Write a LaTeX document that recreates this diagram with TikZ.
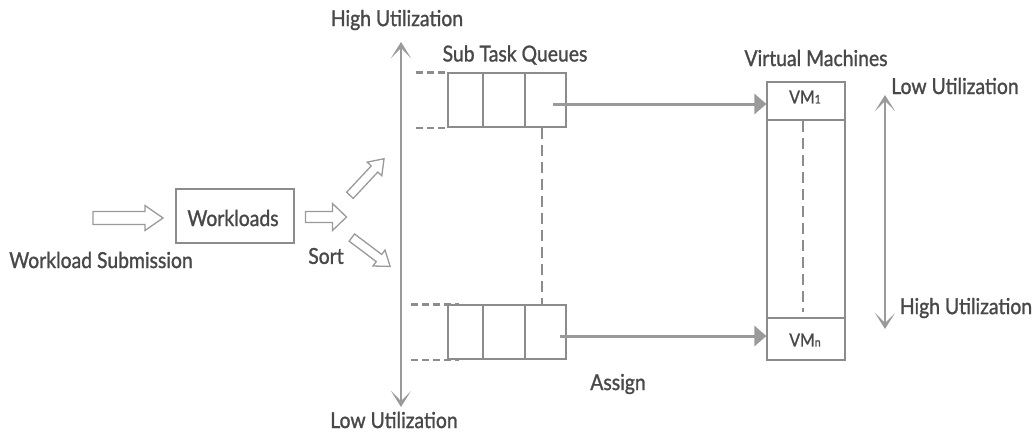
\documentclass[tikz,border=0pt]{standalone}
\usepackage{fontspec}
\setmainfont{Lato}[FakeStretch=0.88,FakeBold=1.2]
\usetikzlibrary{arrows.meta}
\definecolor{txt}{HTML}{484848}
\definecolor{ln}{HTML}{9A9A9A}
\definecolor{bx}{HTML}{8C8C8C}
\tikzset{
  lbl/.style={text=txt,font=\fontsize{22}{24}\selectfont,inner sep=0pt},
  vmlbl/.style={text=txt,font=\fontsize{18}{20}\selectfont,inner sep=0pt},
  hollowsty/.style={draw=ln,fill=white,line width=1.3pt,line join=miter},
  qbox/.style={draw=bx,line width=1.2pt,minimum width=118pt,minimum height=54pt,inner sep=0pt},
  vmbox/.style={draw=bx,line width=1.2pt,minimum width=78pt,minimum height=278pt,inner sep=0pt},
  divider/.style={draw=bx,line width=1.8pt},
  dashq/.style={draw=bx,line width=2.2pt,dash pattern=on 7pt off 4pt},
  dashv/.style={draw=bx,line width=1.8pt,dash pattern=on 11pt off 6pt},
  util/.style={draw=ln,line width=2.4pt,{Stealth[length=16pt,width=20pt,inset=10pt]}-{Stealth[length=16pt,width=20pt,inset=10pt]}},
  assign/.style={draw=ln,line width=3pt,-{Triangle[length=12pt,width=20pt]}}
}
% hollow block arrow: center x, center y, angle, length, shaft half, head half, head length
\newcommand{\myhollow}[7]{%
  \draw[hollowsty,shift={(#1,#2)},rotate=#3]
    (-#4/2,-#5) -- (#4/2-#7,-#5) -- (#4/2-#7,-#6) -- (#4/2,0) -- (#4/2-#7,#6)
    -- (#4/2-#7,#5) -- (-#4/2,#5) -- cycle;}
\begin{document}
\begin{tikzpicture}[x=1pt,y=-1pt]
\useasboundingbox (0,0) rectangle (1035,437);
% hollow arrows
\myhollow{128}{218}{0}{70}{6.5}{12.5}{18}
\node[draw=bx,line width=1.2pt,minimum width=118pt,minimum height=54pt,inner sep=0pt] (wl) at (235,216) {};
\node[lbl] (wlt) at (233,218) {Workloads};
\myhollow{326}{217}{0}{41}{5.5}{13.5}{14}
\myhollow{367}{177}{47}{50}{4.5}{10}{14}
\myhollow{371}{252}{-37}{48}{4.5}{10}{14}
\node[lbl] (sub) at (101,260) {Workload Submission};
\node[lbl] (sortl) at (326,256) {Sort};
% left utilization axis
\coordinate (lt) at (401,42);
\coordinate (lb) at (401,407);
\draw[util] (lt) -- (lb);
\node[lbl] (hu1) at (397,20) {High Utilization};
\node[lbl] (lu1) at (394,420) {Low Utilization};
% queues
\node[lbl] (stq) at (515,55) {Sub Task Queues};
\node[qbox] (q1) at (507,100) {};
\node[qbox] (q2) at (507,332) {};
\foreach \q in {q1,q2}{
  \draw[divider] ([xshift=-24pt]\q.north) -- ([xshift=-24pt]\q.south);
  \draw[divider] ([xshift=18pt]\q.north) -- ([xshift=18pt]\q.south);
}
\draw[dashq] ([xshift=-31pt]q1.north west) -- (q1.north west);
\draw[dashq] ([xshift=-31pt]q1.south west) -- (q1.south west);
\draw[dashq] ([xshift=-36pt]q2.north west) -- ([xshift=12pt]q2.north west);
\draw[dashq] ([xshift=-36pt]q2.south west) -- ([xshift=12pt]q2.south west);
\draw[dashv] ([xshift=35pt]q1.south) -- ([xshift=35pt]q2.north);
% virtual machines
\node[lbl] (vmt) at (816,58) {Virtual Machines};
\node[vmbox] (vm) at (806,221) {};
\draw[divider,line width=2.6pt] (767,120) -- (845,120);
\draw[divider,line width=2.6pt] (767,318) -- (845,318);
\draw[dashv] (803,121) -- (803,312);
\node[vmlbl] (vm1) at (805,97) {VM{\fontsize{12}{14}\selectfont 1}};
\node[vmlbl] (vmn) at (805,340) {VM{\fontsize{12}{14}\selectfont n}};
% assign arrows
\coordinate (a1) at (553,104);
\coordinate (a2) at (560,336);
\draw[assign] (a1) -- (vm.west |- a1);
\draw[assign] (a2) -- (vm.west |- a2);
\node[lbl] (asg) at (618,384) {Assign};
% right utilization axis
\coordinate (rt) at (885,95);
\coordinate (rb) at (885,329);
\draw[util,line width=2pt] (rt) -- (rb);
\node[lbl] (lu2) at (955,86) {Low Utilization};
\node[lbl] (hu2) at (966,308) {High Utilization};
\end{tikzpicture}
\end{document}
